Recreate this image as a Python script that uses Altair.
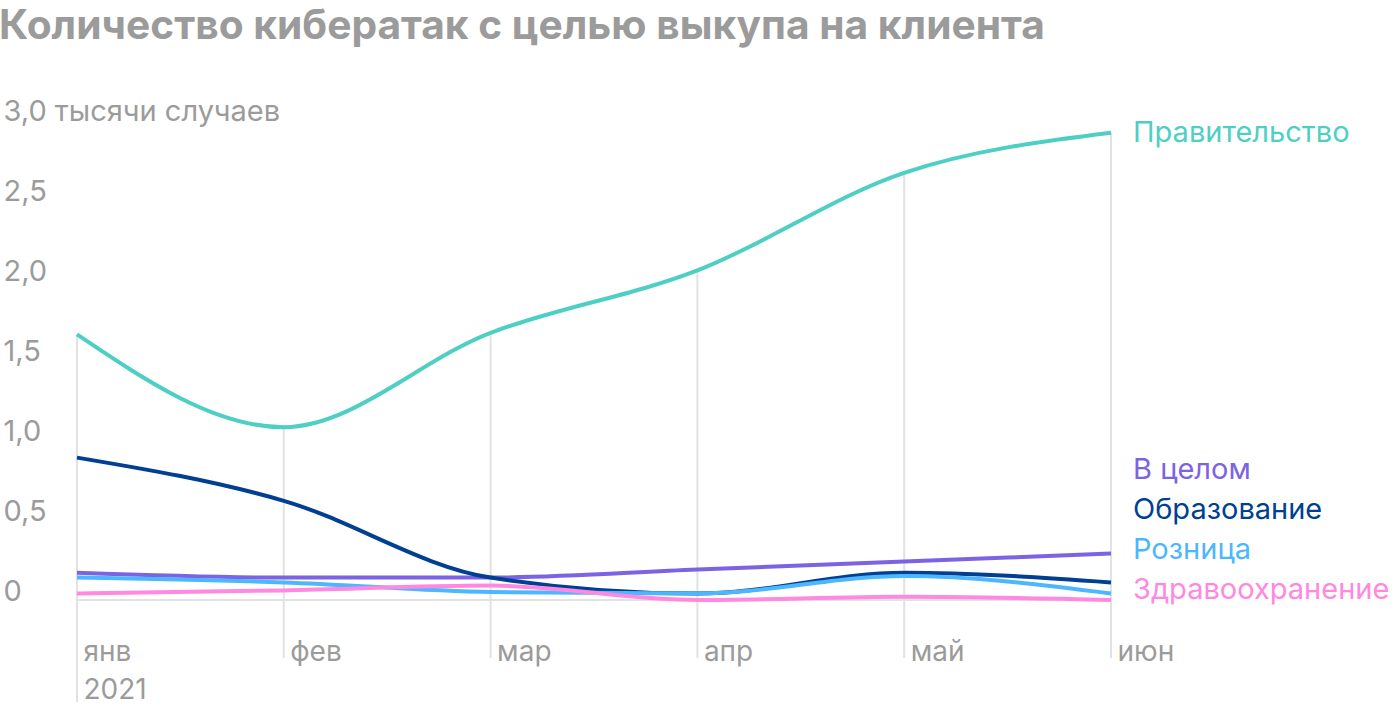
import altair as alt
import pandas as pd

months = ["янв", "фев", "мар", "апр", "май", "июн"]
series_names = ["Правительство", "В целом", "Образование", "Розница", "Здравоохранение"]
gov = [1.66, 1.08, 1.67, 2.06, 2.67, 2.92]
overall = [0.17, 0.14, 0.14, 0.19, 0.24, 0.29]
edu = [0.89, 0.62, 0.14, 0.04, 0.17, 0.11]
retail = [0.14, 0.11, 0.05, 0.04, 0.15, 0.04]
health = [0.04, 0.06, 0.09, 0.00, 0.02, 0.00]
colors = ["#4ecfc3", "#7b63e3", "#003f91", "#4cb6ff", "#ff88e0"]
# label anchor values (in data units) for the right-hand series labels
label_anchor = [2.92, 0.81, 0.56, 0.31, 0.06]

values = [gov, overall, edu, retail, health]
rows = []
for name, vals in zip(series_names, values):
    for i, v in enumerate(vals):
        rows.append({"series": name, "m": i, "value": v})
df = pd.DataFrame(rows)
grid_df = pd.DataFrame({"m": list(range(len(months))), "top": gov})
lab_df = pd.DataFrame({"series": series_names, "ly": label_anchor, "m": [5] * 5})

FONT = "Inter"
GRAY = "#9b9b9b"
H = 480

color_scale = alt.Scale(domain=series_names, range=colors)
x_scale = alt.Scale(domain=[0, 5], nice=False, zero=False)
y_scale = alt.Scale(domain=[0, 3], nice=False)

x_label_expr = (
    "datum.value == 0 ? ['янв', '2021'] : "
    "datum.value == 1 ? 'фев' : datum.value == 2 ? 'мар' : "
    "datum.value == 3 ? 'апр' : datum.value == 4 ? 'май' : 'июн'"
)
y_label_expr = (
    "datum.value == 3 ? '3,0 тысячи случаев' : datum.value == 0 ? '0' : "
    "replace(format(datum.value, '.1f'), '.', ',')"
)

x_enc = alt.X(
    "m:Q",
    scale=x_scale,
    axis=alt.Axis(
        values=[0, 1, 2, 3, 4, 5],
        labelExpr=x_label_expr,
        title=None,
        grid=False,
        domain=False,
        ticks=False,
        tickSize=0,
        labelAlign="left",
        labelBaseline="alphabetic",
        labelOffset=6,
        labelPadding=60,
        labelLineHeight=38,
        labelFontSize=28,
        labelColor=GRAY,
        labelFont=FONT,
        labelOverlap=False,
        labelFlush=False,
        labelBound=False,
        labelLimit=400,
    ),
)
y_enc = alt.Y(
    "value:Q",
    scale=y_scale,
    axis=alt.Axis(
        values=[0, 0.5, 1, 1.5, 2, 2.5, 3],
        labelExpr=y_label_expr,
        title=None,
        grid=False,
        domain=False,
        ticks=False,
        tickSize=0,
        labelAlign="left",
        labelBaseline="alphabetic",
        labelPadding=74,
        labelFontSize=29,
        labelColor=GRAY,
        labelFont=FONT,
        labelOverlap=False,
        labelBound=False,
        labelFlush=False,
        labelLimit=400,
    ),
)

grid_rest = (
    alt.Chart(grid_df)
    .transform_filter("datum.m > 0")
    .mark_rule(color="#e2e2e2", strokeWidth=2)
    .encode(x=alt.X("m:Q", scale=x_scale), y=alt.Y("top:Q", scale=y_scale), y2=alt.value(538))
)
grid_first = (
    alt.Chart(grid_df)
    .transform_filter("datum.m == 0")
    .mark_rule(color="#e2e2e2", strokeWidth=2)
    .encode(x=alt.X("m:Q", scale=x_scale), y=alt.Y("top:Q", scale=y_scale), y2=alt.value(582))
)
baseline = (
    alt.Chart(grid_df)
    .mark_rule(color="#e2e2e2", strokeWidth=2)
    .encode(x=alt.datum(0, scale=x_scale), x2=alt.datum(5), y=alt.datum(0, scale=y_scale))
)

lines = (
    alt.Chart(df)
    .mark_line(interpolate="monotone", strokeWidth=4)
    .encode(
        x=x_enc,
        y=y_enc,
        color=alt.Color("series:N", scale=color_scale, legend=None),
        detail="series:N",
    )
)

labels = (
    alt.Chart(lab_df)
    .mark_text(align="left", baseline="middle", dx=22, fontSize=29, font=FONT)
    .encode(
        x=alt.X("m:Q", scale=x_scale),
        y=alt.Y("ly:Q", scale=y_scale),
        text="series:N",
        color=alt.Color("series:N", scale=color_scale, legend=None),
    )
)

chart = (
    alt.layer(grid_rest, grid_first, baseline, lines, labels)
    .properties(
        width=1034,
        height=H,
        background="white",
        autosize=alt.AutoSizeParams(type="none"),
        padding={"left": 77, "top": 120, "right": 289, "bottom": 112},
        title=alt.TitleParams(
            "Количество кибератак с целью выкупа на клиента",
            anchor="start",
            frame="group",
            dx=-78,
            offset=17,
            baseline="alphabetic",
            fontSize=40.7,
            font=FONT,
            fontWeight="bold",
            color=GRAY,
        ),
    )
    .configure_view(strokeWidth=0, stroke=None)
)

chart.save("out.html", embed_options={"renderer": "svg", "actions": False})
